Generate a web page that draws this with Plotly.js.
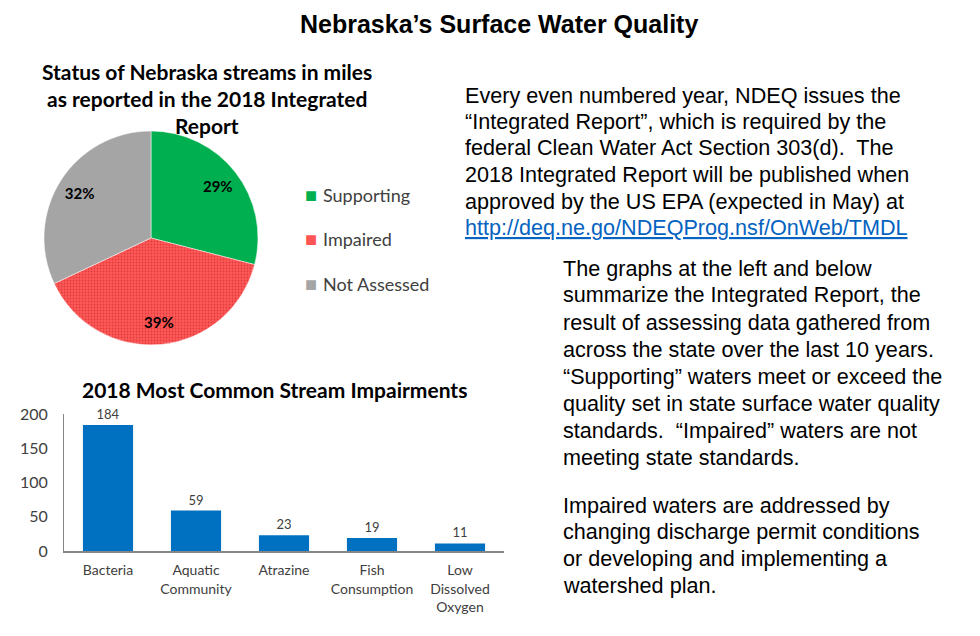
<!DOCTYPE html>
<html>
<head>
<meta charset="utf-8">
<script src="https://cdn.plot.ly/plotly-3.0.1.min.js"></script>
<style>
  html, body { margin: 0; padding: 0; background: #fff; }
  #chart { width: 980px; height: 636px; }
</style>
</head>
<body>
<div id="chart"></div>
<script>
// Pie: stream status
const pieLabels = ['Supporting', 'Impaired', 'Not Assessed'];
const pieValues = [29, 39, 32];
const pieColors = ['#00B050', '#FF5454', '#A5A5A5'];

// Bar: most common impairments
const barCategories = ['Bacteria', 'Aquatic<br>Community', 'Atrazine', 'Fish<br>Consumption', 'Low<br>Dissolved<br>Oxygen'];
const barValues = [184, 59, 23, 19, 11];
const yTicks = [0, 50, 100, 150, 200];

// Text blocks, one entry per line
const introLines = [
    'Every even numbered year, NDEQ issues the',
    '\u201cIntegrated Report\u201d, which is required by the',
    'federal Clean Water Act Section 303(d).&nbsp; The',
    '2018 Integrated Report will be published when',
    'approved by the US EPA (expected in May) at',
    '<span style="color:#0563C1;text-decoration:underline">http://deq.ne.go/NDEQProg.nsf/OnWeb/TMDL</span>'
];
const summaryLines = [
    'The graphs at the left and below',
    'summarize the Integrated Report, the',
    'result of assessing data gathered from',
    'across the state over the last 10 years.',
    '\u201cSupporting\u201d waters meet or exceed the',
    'quality set in state surface water quality',
    'standards.&nbsp; \u201cImpaired\u201d waters are not',
    'meeting state standards.'
];
const actionLines = [
    'Impaired waters are addressed by',
    'changing discharge permit conditions',
    'or developing and implementing a',
    'watershed plan.'
];
const pieTitleLines = [
    'Status of Nebraska streams in miles',
    'as reported in the 2018 Integrated',
    'Report'
];

const W = 980, H = 636;
const px = x => x / W;
const py = y => 1 - y / H;

const calibri = 'Lato, "Open Sans", sans-serif';
const arial = '"Liberation Sans", Arial, sans-serif';

function textLines(lines, x, y0, step, font, xanchor) {
    return lines.map((t, i) => ({
        text: t,
        xref: 'paper', yref: 'paper',
        x: px(x), y: py(y0 + i * step),
        xanchor: xanchor || 'left', yanchor: 'middle',
        showarrow: false,
        font: font
    }));
}

const bodyFont = {family: arial, size: 21.6, color: '#000'};
const pieTitleFont = {family: calibri, size: 21, color: '#000', weight: 'bold'};

// legend drawn as text: coloured square + label
const legendItems = [];
pieLabels.forEach((lab, i) => {
    const y = py(195 + i * 44.5);
    legendItems.push({
        text: '\u25A0', xref: 'paper', yref: 'paper', x: px(303), y: y,
        xanchor: 'left', yanchor: 'middle', showarrow: false,
        font: {family: arial, size: 20, color: pieColors[i]}
    });
    legendItems.push({
        text: lab, xref: 'paper', yref: 'paper', x: px(321), y: y,
        xanchor: 'left', yanchor: 'middle', showarrow: false,
        font: {family: calibri, size: 18, color: '#404040'}
    });
});

const annotations = [
    {
        text: '<b>Nebraska\u2019s Surface Water Quality</b>',
        xref: 'paper', yref: 'paper', x: px(499), y: py(24),
        xanchor: 'center', yanchor: 'middle', showarrow: false,
        font: {family: arial, size: 25, color: '#000'}
    },
    {
        text: '2018 Most Common Stream Impairments',
        xref: 'paper', yref: 'paper', x: px(274), y: py(389),
        xanchor: 'center', yanchor: 'middle', showarrow: false,
        font: {family: calibri, size: 21, color: '#000', weight: 'bold'}
    }
]
    .concat(textLines(pieTitleLines, 207, 72, 26.5, pieTitleFont, 'center'))
    .concat(textLines(introLines, 463, 95, 26.5, bodyFont))
    .concat(textLines(summaryLines, 561, 268, 27, bodyFont))
    .concat(textLines(actionLines, 561, 505, 26.7, bodyFont))
    .concat(legendItems);

const pieDomain = {x: [px(44), px(258)], y: [py(345), py(131)]};

const pie = {
    type: 'pie',
    labels: pieLabels,
    values: pieValues,
    sort: false,
    direction: 'clockwise',
    rotation: 0,
    domain: pieDomain,
    marker: {
        colors: pieColors,
        line: {color: '#ffffff', width: 0.5},
        pattern: {shape: ['', '.', ''], fgcolor: '#E23A3A', bgcolor: '#FF5A5A', size: 3, solidity: 0.3}
    },
    textinfo: 'none',
    showlegend: false,
    hoverinfo: 'label+percent'
};

// transparent ring on top to place the percentage labels out towards the rim
const pieLabelsRing = {
    type: 'pie',
    labels: pieLabels,
    values: pieValues,
    sort: false,
    direction: 'clockwise',
    rotation: 0,
    hole: 0.58,
    domain: pieDomain,
    marker: {colors: pieLabels.map(() => 'rgba(0,0,0,0)'), line: {width: 0}},
    textinfo: 'percent',
    textposition: 'inside',
    insidetextorientation: 'horizontal',
    textfont: {family: calibri, size: 15, color: '#000', weight: 'bold'},
    showlegend: false,
    hoverinfo: 'skip'
};

const bars = {
    type: 'bar',
    x: barCategories,
    y: barValues,
    text: barValues.map(String),
    textposition: 'outside',
    textfont: {family: calibri, size: 13, color: '#404040'},
    cliponaxis: false,
    marker: {color: '#0070C0'},
    showlegend: false,
    xaxis: 'x', yaxis: 'y'
};

const layout = {
    width: W,
    height: H,
    margin: {l: 0, r: 0, t: 0, b: 0},
    paper_bgcolor: '#ffffff',
    plot_bgcolor: '#ffffff',
    showlegend: false,
    bargap: 0.43,
    xaxis: {
        domain: [px(64), px(504)],
        anchor: 'y',
        showline: true,
        linecolor: '#868686',
        linewidth: 1.5,
        ticks: '',
        ticklabelstandoff: 6,
        tickfont: {family: calibri, size: 14, color: '#404040'},
        fixedrange: true
    },
    yaxis: {
        domain: [py(551), py(414)],
        anchor: 'x',
        range: [0, 200],
        tickvals: yTicks,
        showgrid: false,
        zeroline: false,
        showline: true,
        linecolor: '#868686',
        linewidth: 1,
        ticks: '',
        ticklabelstandoff: 12,
        tickfont: {family: calibri, size: 16, color: '#404040'},
        fixedrange: true
    },
    annotations: annotations
};

Plotly.newPlot('chart', [pie, pieLabelsRing, bars], layout, {displayModeBar: false, staticPlot: true});
</script>
</body>
</html>
